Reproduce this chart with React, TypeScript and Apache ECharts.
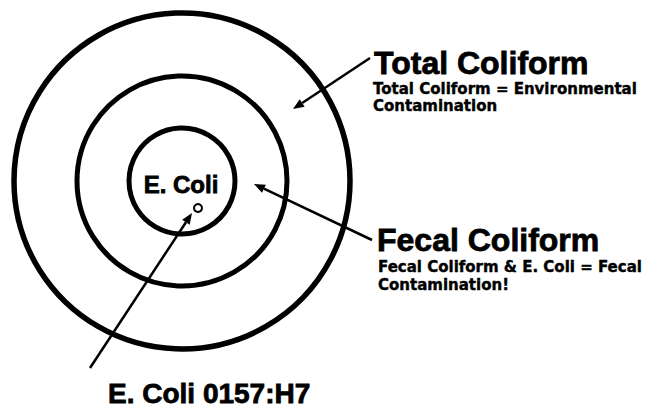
import React, { useEffect, useRef } from "react";
import * as echarts from "echarts";

const ringLabels = ["Total Coliform", "Fecal Coliform", "E. Coli"];
const ringRadii = [168, 105, 53];
const totalNotes = ["Total Coliform = Environmental", "Contamination"];
const fecalNotes = ["Fecal Coliform & E. Coli = Fecal", "Contamination!"];
const strainLabel = "E. Coli 0157:H7";

const BIG = "'Liberation Sans', Arial, sans-serif";
const SMALL = "'DejaVu Sans', 'Liberation Sans', Arial, sans-serif";

function arrow(x1: number, y1: number, x2: number, y2: number): any[] {
  const dx = x2 - x1;
  const dy = y2 - y1;
  const len = Math.sqrt(dx * dx + dy * dy);
  const ux = dx / len;
  const uy = dy / len;
  const hl = 11;
  const hw = 4.5;
  const bx = x2 - ux * hl;
  const by = y2 - uy * hl;
  return [
    {
      type: "line",
      shape: { x1, y1, x2: bx, y2: by },
      style: { stroke: "#000", lineWidth: 2.5 },
    },
    {
      type: "polygon",
      shape: {
        points: [
          [x2, y2],
          [bx - uy * hw, by + ux * hw],
          [bx + uy * hw, by - ux * hw],
        ],
      },
      style: { fill: "#000" },
    },
  ];
}

function txt(text: string, x: number, y: number, size: number, family: string, align = "left"): any {
  return {
    type: "text",
    style: {
      text,
      x,
      y,
      fontSize: size,
      fontWeight: "bold",
      fontFamily: family,
      fill: "#000",
      stroke: "#000",
      lineWidth: size > 20 ? 0.8 : 0.4,
      align,
      verticalAlign: "middle",
    },
  };
}

export default function App() {
  const ref = useRef<HTMLDivElement>(null);
  useEffect(() => {
    document.body.style.margin = "0";
    if (!ref.current) return;
    const chart = echarts.init(ref.current, undefined, { renderer: "svg" });
    const cx = 182;
    const cy = 181;
    const elements: any[] = [];
    ringRadii.forEach((r, i) => {
      elements.push({
        type: "circle",
        shape: { cx, cy, r },
        style: { fill: "none", stroke: "#000", lineWidth: i === 0 ? 5.5 : 5 },
      });
    });
    elements.push({
      type: "circle",
      shape: { cx: 198, cy: 208, r: 4 },
      style: { fill: "#fff", stroke: "#000", lineWidth: 2 },
    });
    elements.push(txt(ringLabels[2], 181, 184, 24, BIG, "center"));
    elements.push(...arrow(370, 58, 293, 109));
    elements.push(...arrow(372, 240, 254, 184));
    elements.push(...arrow(90, 368, 192, 213));
    elements.push(txt(ringLabels[0], 374, 63, 32, BIG));
    elements.push(txt(totalNotes[0], 373, 89, 15, SMALL));
    elements.push(txt(totalNotes[1], 373, 106, 15, SMALL));
    elements.push(txt(ringLabels[1], 377, 240, 32, BIG));
    elements.push(txt(fecalNotes[0], 378, 267, 15, SMALL));
    elements.push(txt(fecalNotes[1], 378, 285, 15, SMALL));
    elements.push(txt(strainLabel, 108, 393, 28, BIG));
    chart.setOption({
      animation: false,
      backgroundColor: "#fff",
      graphic: { elements },
    });
    return () => chart.dispose();
  }, []);
  return <div ref={ref} style={{ width: 665, height: 408 }} />;
}
